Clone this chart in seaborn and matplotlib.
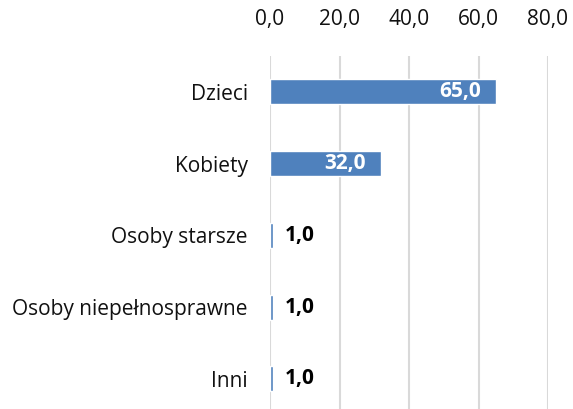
import pandas as pd
import matplotlib
matplotlib.use("Agg")
import matplotlib.pyplot as plt
import seaborn as sns

# data
categories = ["Dzieci", "Kobiety", "Osoby starsze", "Osoby niepełnosprawne", "Inni"]
values = [65.0, 32.0, 1.0, 1.0, 1.0]
x_ticks = [0, 20, 40, 60, 80]

df = pd.DataFrame({"grupa": categories, "wartosc": values})

sns.set_theme(style="white")
plt.rcParams["font.family"] = ["Open Sans", "DejaVu Sans"]

fig = plt.figure(figsize=(5.73, 4.09), dpi=100)
ax = fig.add_axes([270 / 573, 0.0, 278 / 573, 353 / 409])

sns.barplot(data=df, x="wartosc", y="grupa", color="#4F81BD", width=0.35,
            saturation=1, ax=ax, zorder=3)

ax.set_xlim(0, 80)
ax.set_ylim(4.42, -0.5)
ax.set_xticks(x_ticks)
ax.set_xticklabels([f"{t:.1f}".replace(".", ",") for t in x_ticks], fontsize=15, color="#111111")
ax.xaxis.tick_top()
ax.tick_params(axis="x", length=0, pad=19)
ax.tick_params(axis="y", length=0, pad=16, labelsize=15, labelcolor="#111111")
ax.set_xlabel("")
ax.set_ylabel("")
ax.grid(axis="x", color="#D9D9D9", linewidth=1.5, zorder=0)
for s in ax.spines.values():
    s.set_visible(False)

# value labels: inside for long bars, outside for tiny ones
for i, v in enumerate(values):
    txt = f"{v:.1f}".replace(".", ",")
    if v > 10:
        ax.annotate(txt, (v, i), xytext=(-11, 0), textcoords="offset points",
                    ha="right", va="center", color="white", fontsize=15, fontweight="bold")
    else:
        ax.annotate(txt, (v, i), xytext=(8, 0), textcoords="offset points",
                    ha="left", va="center", color="black", fontsize=15, fontweight="bold")

fig.savefig("out.png", dpi=100)
